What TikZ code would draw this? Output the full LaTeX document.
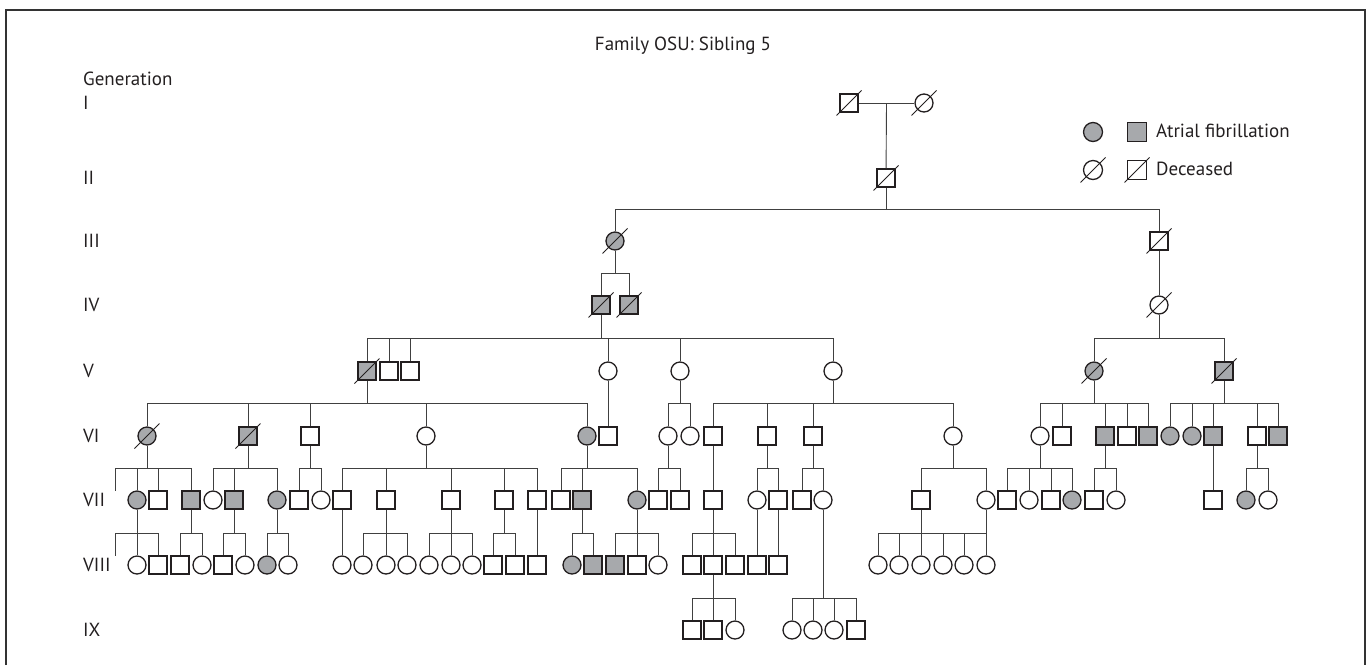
\documentclass[tikz,border=0pt]{standalone}
\usepackage{fontspec}
\setmainfont{PT Sans}
\usepackage{xcolor}
\usepackage{tikz}
\usetikzlibrary{calc}

\definecolor{afgray}{HTML}{A7A9AC}
\definecolor{ink}{HTML}{231F20}

% parent -> sibship line -> each child
\newcommand{\kids}[3]{%
    \draw[link] (#1) -- (#1 |- #2);
    \foreach \c in {#3} {\draw[link] (#1 |- #2) -- (\c |- #2) -- (\c);}
}

\begin{document}
\begin{tikzpicture}[
    x=1pt, y=-1pt,
    every node/.style={inner sep=0pt, font=\fontsize{19}{23}\selectfont},
    male/.style={draw=ink, line width=1.3pt, fill=white, minimum size=18pt},
    female/.style={male, circle},
    maleaf/.style={male, fill=afgray},
    femaleaf/.style={female, fill=afgray},
    keysym/.style={minimum size=19pt},
    link/.style={draw=black!75, line width=0.9pt},
    slash/.style={draw=ink, line width=0.8pt},
    gentext/.style={anchor=west, text=ink},
    frame/.style={draw=black!80, line width=1.2pt}
]
\useasboundingbox (0,0) rectangle (1367,665);
\draw[frame] (6,665) -- (6,10) -- (1365,10) -- (1365,665);

\node[text=ink] (title) at (683,46) {Family OSU: Sibling 5};
\node[gentext] (gen) at (83,79) {Generation};
\foreach \g/\y in {I/103, II/178, III/241, IV/305, V/371, VI/436, VII/500, VIII/565, IX/630}
    \node[gentext] (gen\g) at (83,\y) {\g};

% sibship lines
\coordinate (s3) at (0,209);
\coordinate (s4) at (0,273);
\coordinate (s5) at (0,338);
\coordinate (s6) at (0,403);
\coordinate (s7) at (0,468);
\coordinate (s8) at (0,533);
\coordinate (s9) at (0,598);
\coordinate (stub7) at (115,491);
\coordinate (stub8) at (115,556);

% individuals
\node[male] (i1) at (849,103) {};
\node[female] (i2) at (924,103) {};
\node[male] (ii1) at (886,178) {};
\node[femaleaf] (iii1) at (615,241) {};
\node[male] (iii2) at (1159,241) {};
\node[maleaf] (iv1) at (601,305) {};
\node[maleaf] (iv2) at (629,305) {};
\node[female] (iv3) at (1159,305) {};
\foreach \x/\s [count=\k] in {367/maleaf, 389/male, 410/male, 608/female, 680/female,
    833/female, 1094/femaleaf, 1224/maleaf}
    \node[\s] (v\k) at (\x,371) {};
\foreach \x/\s [count=\k] in {147/femaleaf, 248/maleaf, 310/male, 426/female, 587/femaleaf,
    608/male, 668/female, 690/female, 713/male, 767/male, 813/male, 953/female,
    1040/female, 1062/male, 1105/maleaf, 1127/male, 1148/maleaf, 1170/femaleaf,
    1192/femaleaf, 1213/maleaf, 1257/male, 1278/maleaf}
    \node[\s] (vi\k) at (\x,436) {};
\foreach \x/\s [count=\k] in {137/femaleaf, 158/male, 191/maleaf, 213/female, 234/maleaf,
    277/femaleaf, 299/male, 321/female, 342/male, 386/male, 451/male, 504/male, 537/male,
    561/male, 582/maleaf, 637/femaleaf, 658/male, 680/male, 713/male, 757/female, 778/male,
    802/male, 823/female, 921/male, 986/female, 1007/male, 1029/female, 1051/male,
    1072/femaleaf, 1094/male, 1116/female, 1213/male, 1246/femaleaf, 1268/female}
    \node[\s] (vii\k) at (\x,500) {};
\foreach \x/\s [count=\k] in {137/female, 158/male, 180/male, 202/female, 223/male,
    245/female, 267/femaleaf, 288/female, 342/female, 363/female, 386/female, 407/female,
    429/female, 451/female, 472/female, 493/male, 515/male, 537/male, 572/femaleaf,
    593/maleaf, 615/maleaf, 637/male, 658/female, 692/male, 713/male, 735/male, 757/male,
    778/male, 878/female, 899/female, 921/female, 943/female, 964/female, 986/female}
    \node[\s] (viii\k) at (\x,565) {};
\foreach \x/\s [count=\k] in {692/male, 713/male, 735/female, 792/female, 813/female,
    834/female, 856/male}
    \node[\s] (ix\k) at (\x,630) {};

% connectors
\draw[link] (i1) -- (i2);
\draw[link] ($(i1)!.5!(i2)$) -- (ii1);
\kids{ii1}{s3}{iii1,iii2}
\kids{iii1}{s4}{iv1,iv2}
\draw[link] (iii2) -- (iv3);
\kids{iv1}{s5}{v1,v2,v3,v4,v5,v6}
\kids{iv3}{s5}{v7,v8}
\kids{v1}{s6}{vi1,vi2,vi3,vi4,vi5}
\kids{v4}{s6}{vi6}
\kids{v5}{s6}{vi7,vi8}
\kids{v6}{s6}{vi9,vi10,vi11,vi12}
\kids{v7}{s6}{vi13,vi14,vi15,vi16,vi17}
\kids{v8}{s6}{vi18,vi19,vi20,vi21,vi22}
\kids{vi1}{s7}{stub7,vii1,vii2,vii3}
\kids{vi2}{s7}{vii4,vii5,vii6}
\kids{vi3}{s7}{vii7,vii8}
\kids{vi4}{s7}{vii9,vii10,vii11,vii12,vii13}
\kids{vi5}{s7}{vii14,vii15,vii16}
\kids{vi7}{s7}{vii17,vii18}
\kids{vi9}{s7}{vii19}
\kids{vi10}{s7}{vii20,vii21}
\kids{vi11}{s7}{vii22,vii23}
\kids{vi12}{s7}{vii24,vii25}
\kids{vi13}{s7}{vii26,vii27,vii28,vii29}
\kids{vi15}{s7}{vii30,vii31}
\kids{vi20}{s7}{vii32}
\kids{vi21}{s7}{vii33,vii34}
\kids{vii1}{s8}{stub8,viii1,viii2}
\kids{vii3}{s8}{viii3,viii4}
\kids{vii5}{s8}{viii5,viii6}
\kids{vii6}{s8}{viii7,viii8}
\kids{vii9}{s8}{viii9}
\kids{vii10}{s8}{viii10,viii11,viii12}
\kids{vii11}{s8}{viii13,viii14,viii15}
\kids{vii12}{s8}{viii16,viii17}
\kids{vii13}{s8}{viii18}
\kids{vii15}{s8}{viii19,viii20}
\kids{vii16}{s8}{viii21,viii22,viii23}
\kids{vii19}{s8}{viii24,viii25,viii26}
\kids{vii20}{s8}{viii27}
\kids{vii21}{s8}{viii28}
\kids{vii24}{s8}{viii29,viii30,viii31,viii32,viii33,viii34}
\kids{vii25}{s8}{viii34}
\kids{vii23}{s9}{ix4,ix5,ix6,ix7}
\kids{viii25}{s9}{ix1,ix2,ix3}

% legend
\node[femaleaf, keysym] (keyaff) at (1093,132) {};
\node[maleaf, keysym] (keyafm) at (1137,132) {};
\node[female, keysym] (keydf) at (1093,170) {};
\node[male, keysym] (keydm) at (1137,170) {};
\node[anchor=base west, text=ink] (keyaftext) at (1156,137) {Atrial fibrillation};
\node[anchor=base west, text=ink] (keydtext) at (1156,175) {Deceased};

% deceased
\foreach \n in {i1, i2, ii1, iii1, iii2, iv1, iv2, iv3, v1, v7, v8, vi1, vi2, keydf, keydm}
    \draw[slash] ([shift={(-12.5,12.5)}]\n.center) -- ([shift={(12.5,-12.5)}]\n.center);
\end{tikzpicture}
\end{document}
